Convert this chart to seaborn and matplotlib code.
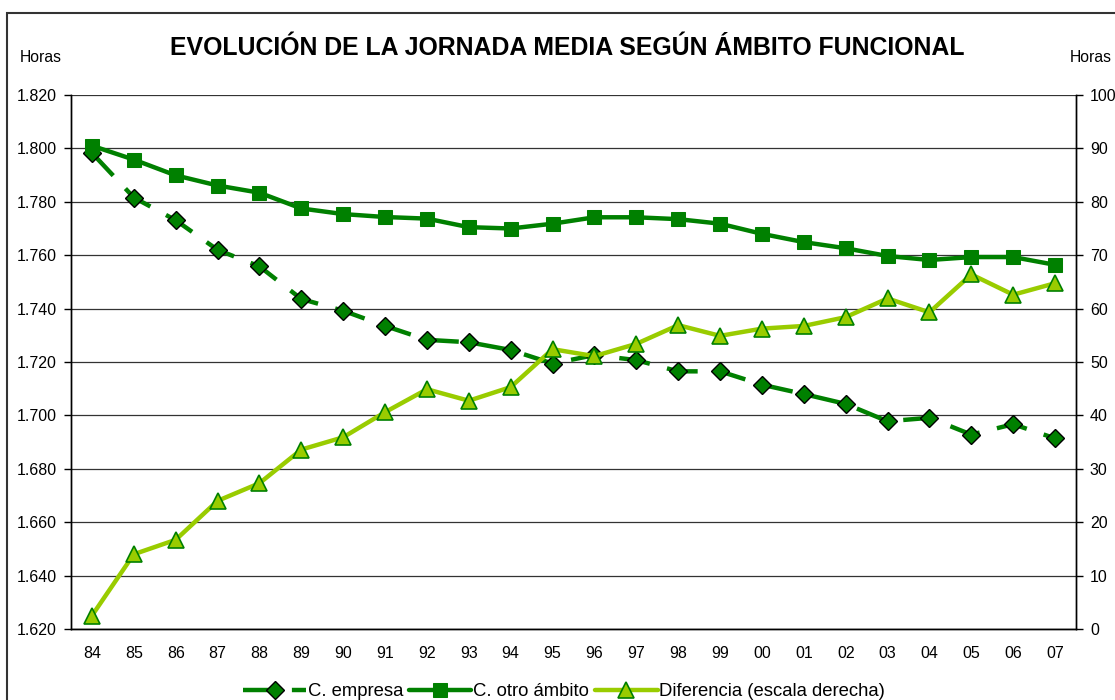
import matplotlib
matplotlib.use('Agg')
import matplotlib.pyplot as plt
from matplotlib.patches import Rectangle
from matplotlib.ticker import FixedLocator
import pandas as pd
import seaborn as sns

# Datos (jornada en miles de horas, diferencia en horas)
anios = ['84', '85', '86', '87', '88', '89', '90', '91', '92', '93', '94', '95',
         '96', '97', '98', '99', '00', '01', '02', '03', '04', '05', '06', '07']
c_empresa = [1.7983, 1.7816, 1.7731, 1.7620, 1.7558, 1.7436, 1.7392, 1.7335,
             1.7283, 1.7274, 1.7245, 1.7194, 1.7226, 1.7207, 1.7165, 1.7165,
             1.7115, 1.7080, 1.7043, 1.6978, 1.6991, 1.6928, 1.6967, 1.6914]
c_otro = [1.8010, 1.7958, 1.7899, 1.7861, 1.7834, 1.7775, 1.7754, 1.7743,
          1.7737, 1.7705, 1.7700, 1.7718, 1.7742, 1.7742, 1.7735, 1.7718,
          1.7680, 1.7649, 1.7626, 1.7597, 1.7582, 1.7593, 1.7593, 1.7564]
diferencia = [2.5, 14.0, 16.7, 24.0, 27.3, 33.6, 35.9, 40.6, 44.9, 42.75, 45.3, 52.4,
              51.1, 53.4, 56.9, 54.9, 56.25, 56.75, 58.4, 61.9, 59.3, 66.4, 62.6, 64.75]

df = pd.DataFrame({'anio': anios, 'empresa': c_empresa, 'otro': c_otro, 'dif': diferencia})

verde = '#008000'
verde_claro = '#99CC00'

sns.set_style('white')
plt.rcParams['font.family'] = ['Liberation Sans', 'DejaVu Sans']
plt.rcParams['text.color'] = 'black'
plt.rcParams['xtick.color'] = 'black'
plt.rcParams['ytick.color'] = 'black'
plt.rcParams['axes.labelcolor'] = 'black'

fig = plt.figure(figsize=(11.15, 7), dpi=100)
ax = fig.add_axes([71 / 1115, 1 - 629 / 700, (1076 - 71) / 1115, (629 - 95) / 700])
ax2 = ax.twinx()

sns.lineplot(data=df, x='anio', y='empresa', ax=ax, color=verde, lw=3.2,
             linestyle=(0, (7, 4)), marker='D', markersize=9.5, markerfacecolor=verde,
             markeredgecolor='black', markeredgewidth=1, label='C. empresa', legend=False)
sns.lineplot(data=df, x='anio', y='otro', ax=ax, color=verde, lw=3.2,
             marker='s', markersize=10.5, markerfacecolor=verde, markeredgecolor=verde,
             label='C. otro ámbito', legend=False)
sns.lineplot(data=df, x='anio', y='dif', ax=ax2, color=verde_claro, lw=3.2,
             marker='^', markersize=11, markerfacecolor=verde_claro, markeredgecolor=verde,
             markeredgewidth=1.2, label='Diferencia (escala derecha)', legend=False)

# ejes
ax.set_xlim(-0.5, 23.5)
ax.set_ylim(1.620, 1.820)
ax2.set_ylim(0, 100)
ax.set_yticks([1.620 + 0.02 * i for i in range(11)])
ax.set_yticklabels(['{:.3f}'.format(1.620 + 0.02 * i) for i in range(11)])
ax2.set_yticks(range(0, 101, 10))
ax.set_xticks(range(len(anios)))
ax.set_xticklabels(anios)
ax.xaxis.set_minor_locator(FixedLocator([i - 0.5 for i in range(len(anios) + 1)]))
ax.tick_params(axis='x', which='major', length=0, pad=12, labelsize=11.5)
ax.tick_params(axis='x', which='minor', length=5, width=1, direction='out', color='black')
ax.tick_params(axis='y', length=5, width=1, direction='out', labelsize=11.5, pad=5)
ax2.tick_params(axis='y', length=5, width=1, direction='out', labelsize=11.5, pad=5)
ax.set_xlabel('')
ax.set_ylabel('')
ax2.set_ylabel('')

ax.yaxis.grid(True, color='#333333', lw=0.9)
for a in (ax, ax2):
    a.spines['top'].set_visible(False)
    for s in ('left', 'right', 'bottom'):
        a.spines[s].set_color('black')
        a.spines[s].set_linewidth(1)

# textos
fig.text(0.509, 1 - 48 / 700, 'EVOLUCIÓN DE LA JORNADA MEDIA SEGÚN ÁMBITO FUNCIONAL',
         ha='center', va='center', fontsize=17.9, fontweight='bold')
fig.text(20 / 1115, 1 - 58 / 700, 'Horas', ha='left', va='center', fontsize=11.3)
fig.text(1070 / 1115, 1 - 58 / 700, 'Horas', ha='left', va='center', fontsize=11.3)

h1, l1 = ax.get_legend_handles_labels()
h2, l2 = ax2.get_legend_handles_labels()
fig.legend(h1 + h2, l1 + l2, loc='center', bbox_to_anchor=(0.506, 0.012), ncol=3,
           frameon=False, fontsize=13.3, handlelength=3.4, handletextpad=0.1, columnspacing=0.3)

# marco del gráfico
fig.patches.append(Rectangle((7 / 1115, -0.05), 1.2, 1 - 13 / 700 + 0.05,
                             transform=fig.transFigure, fill=False, ec='#333333', lw=1.5))

fig.savefig('out.png', dpi=100)
